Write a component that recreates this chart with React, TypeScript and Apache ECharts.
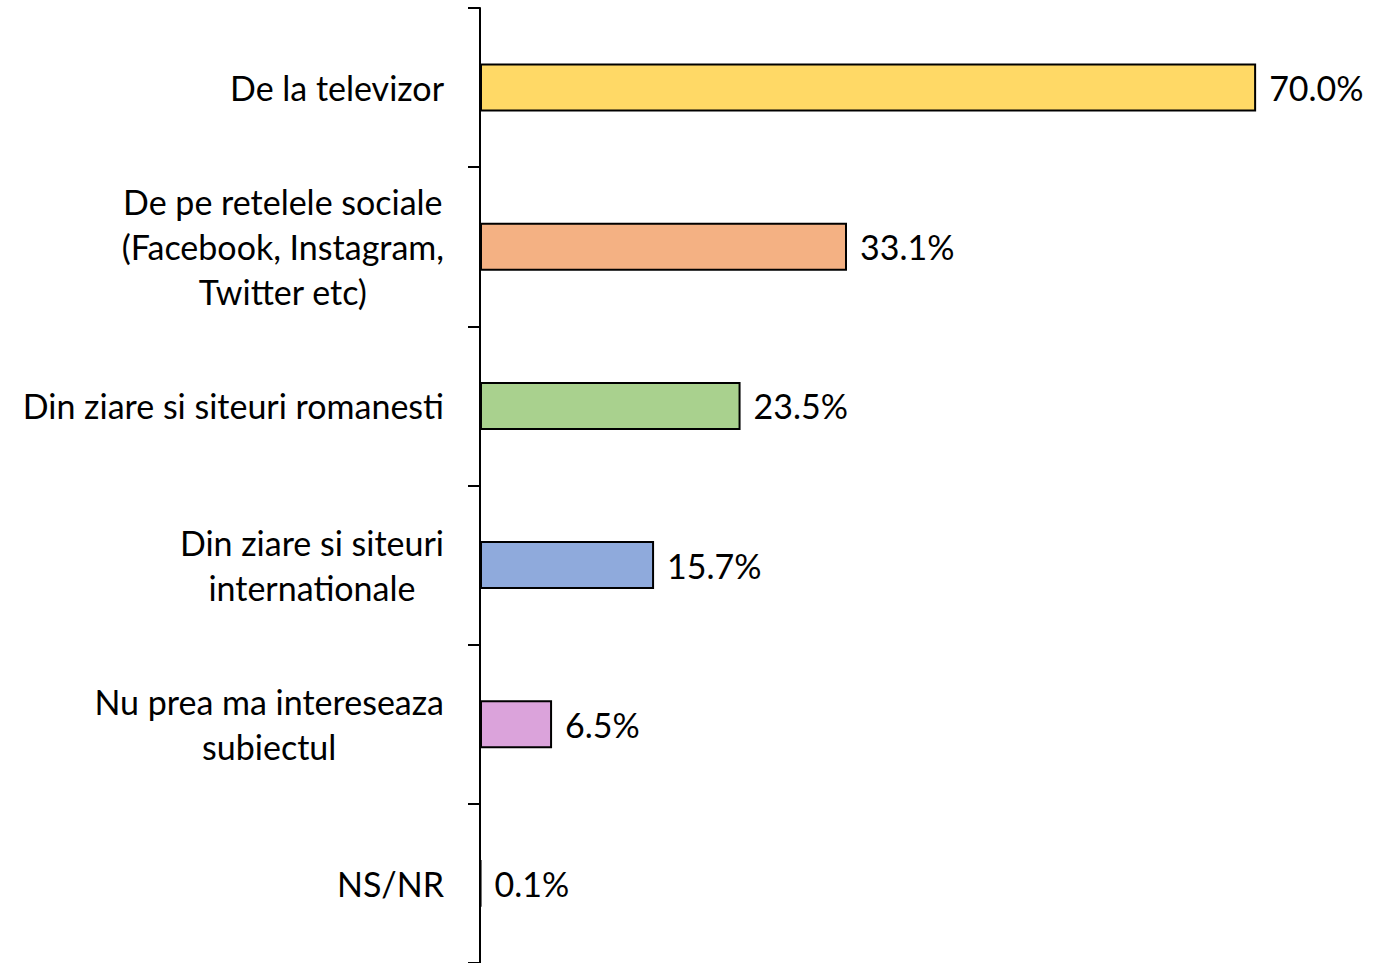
import React, { useEffect, useRef } from "react";
import * as echarts from "echarts";

const categories: string[] = [
  "De la televizor",
  "De pe retelele sociale\n(Facebook, Instagram,\nTwitter etc)",
  "Din ziare si siteuri romanesti",
  "Din ziare si siteuri\ninternationale",
  "Nu prea ma intereseaza\nsubiectul",
  "NS/NR",
];
const values: number[] = [70.0, 33.1, 23.5, 15.7, 6.5, 0.1];
const colors: string[] = ["#FFD966", "#F4B183", "#A9D18E", "#8FAADC", "#DBA3DB", "#000000"];

const FONT = "Lato";
const FS = 34;

export default function App() {
  const ref = useRef<HTMLDivElement>(null);
  useEffect(() => {
    document.body.style.margin = "0";
    if (!ref.current) return;
    const chart = echarts.init(ref.current, null, { renderer: "svg" });
    const yCats = [...categories].reverse();
    const yVals = [...values].reverse();
    const yCols = [...colors].reverse();
    chart.setOption({
      animation: false,
      grid: { left: 480, right: 8, top: 8, height: 956, containLabel: false },
      xAxis: {
        type: "value",
        min: 0,
        max: 80,
        show: false,
      },
      yAxis: {
        type: "category",
        data: yCats,
        axisLine: { show: true, lineStyle: { color: "#000", width: 2 } },
        axisTick: { show: true, length: 12, lineStyle: { color: "#000", width: 2 } },
        axisLabel: {
          margin: 36,
          align: "right",
          color: "#000",
          fontFamily: FONT,
          fontSize: FS,
          lineHeight: 45,
          formatter: (v: string) =>
            v
              .split("\n")
              .map((l) => `{c|${l}}`)
              .join("\n"),
          rich: {
            c: { align: "center", fontFamily: FONT, fontSize: FS, lineHeight: 45, color: "#000" },
          },
        },
      },
      series: [
        {
          type: "bar",
          barWidth: 48,
          data: yVals.map((v, i) => ({
            value: v,
            itemStyle: { color: yCols[i], borderColor: "#000", borderWidth: 2 },
          })),
          label: {
            show: true,
            position: "right",
            distance: 13,
            color: "#000",
            fontFamily: FONT,
            fontSize: FS,
            formatter: (p: any) => `${p.value.toFixed(1)}%`,
          },
        },
      ],
    });
    return () => chart.dispose();
  }, []);
  return <div ref={ref} style={{ width: 1375, height: 963 }} />;
}
